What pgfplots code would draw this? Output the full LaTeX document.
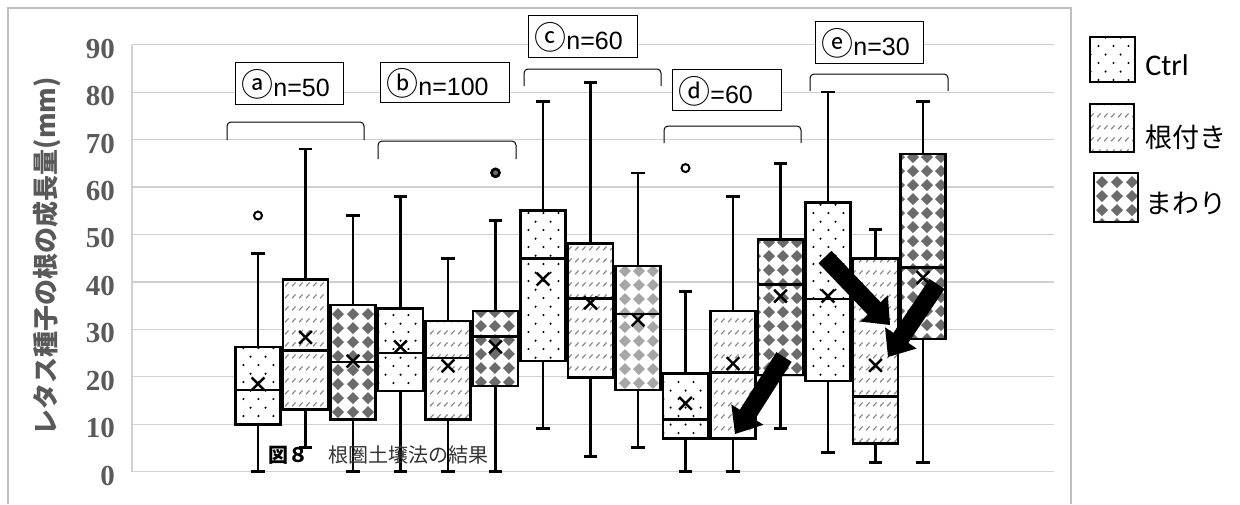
\documentclass[border=0pt]{standalone}
\usepackage{fontspec}
\setmainfont{Liberation Sans}
\newfontfamily\jp{Noto Sans CJK JP}
\newfontfamily\tickfont{Liberation Serif}
\newfontfamily\carl{Carlito}
\usepackage{pgfplots}
\pgfplotsset{compat=1.18}
\usepgfplotslibrary{statistics}
\usetikzlibrary{patterns,calc}

\pgfdeclarepatternformonly{sdots}{\pgfqpoint{0pt}{0pt}}{\pgfqpoint{7.5pt}{8.4pt}}{\pgfqpoint{7.5pt}{8.4pt}}{%
  \pgfpathcircle{\pgfqpoint{1.8pt}{2pt}}{0.6pt}%
  \pgfpathcircle{\pgfqpoint{5.55pt}{6.2pt}}{0.6pt}%
  \pgfusepath{fill}}
\pgfdeclarepatternformonly{shatch}{\pgfqpoint{0pt}{0pt}}{\pgfqpoint{3.3pt}{6pt}}{\pgfqpoint{3.3pt}{6pt}}{%
  \pgfsetlinewidth{0.6pt}%
  \pgfpathmoveto{\pgfqpoint{0.6pt}{1.5pt}}%
  \pgfpathlineto{\pgfqpoint{2.4pt}{3.5pt}}%
  \pgfusepath{stroke}}
\pgfdeclarepatternformonly{sdiam}{\pgfqpoint{0pt}{0pt}}{\pgfqpoint{7.2pt}{7.2pt}}{\pgfqpoint{7.2pt}{7.2pt}}{%
  \pgfpathmoveto{\pgfqpoint{3.6pt}{0.5pt}}%
  \pgfpathlineto{\pgfqpoint{6.7pt}{3.6pt}}%
  \pgfpathlineto{\pgfqpoint{3.6pt}{6.7pt}}%
  \pgfpathlineto{\pgfqpoint{0.5pt}{3.6pt}}%
  \pgfpathclose
  \pgfusepath{fill}}

\definecolor{gridc}{HTML}{D0D0D0}
\definecolor{framec}{HTML}{BFBFBF}
\definecolor{tickc}{HTML}{5A5A5A}
\definecolor{hatchc}{HTML}{858585}
\definecolor{diamc}{HTML}{6B6B6B}
\definecolor{diamlc}{HTML}{A6A6A6}

\pgfplotsset{
  ctrl/.style={draw=black, line width=1.3pt,
    boxplot/every box/.style={preaction={fill=white}, pattern=sdots, pattern color=black}},
  nezu/.style={draw=black, line width=1.3pt,
    boxplot/every box/.style={preaction={fill=white}, pattern=shatch, pattern color=hatchc}},
  mawa/.style={draw=black, line width=1.3pt,
    boxplot/every box/.style={preaction={fill=white}, pattern=sdiam, pattern color=diamc}},
  mawal/.style={draw=black, line width=1.3pt,
    boxplot/every box/.style={preaction={fill=white}, pattern=sdiam, pattern color=diamlc}},
  outl/.style={mark=*, mark size=2pt, mark options={fill=white, draw=black, line width=1pt, solid}},
}

\newcommand{\blockarrow}[2]{%
  \fill[black]
    ($(#1)!4.5pt!90:(#2)$) --
    ($($(#2)!11.5pt!(#1)$)!4.5pt!-90:(#1)$) --
    ($($(#2)!11.5pt!(#1)$)!9.5pt!-90:(#1)$) --
    (#2) --
    ($($(#2)!11.5pt!(#1)$)!9.5pt!90:(#1)$) --
    ($($(#2)!11.5pt!(#1)$)!4.5pt!90:(#1)$) --
    ($(#1)!4.5pt!-90:(#2)$) -- cycle;}
\newcommand{\circl}[1]{{\fontsize{16}{16}\jp #1}}

\begin{document}
\begin{tikzpicture}
\begin{scope}[x=0.5pt,y=-0.5pt]
\useasboundingbox (0,0) rectangle (1240,504);
\fill[white] (0,0) rectangle (1240,504);
\draw[framec, line width=0.6pt] (8,504) -- (8,8) -- (1071,8) -- (1071,504);
\end{scope}

\begin{axis}[
  at={(66pt,-235.85pt)}, anchor=south west,
  scale only axis, width=461pt, height=213.5pt,
  xmin=-1.6526, xmax=17.758, ymin=0, ymax=90,
  axis x line=none,
  axis y line*=left,
  y axis line style={draw=gridc, line width=0.6pt, -},
  ytick={0,10,...,90},
  major tick length=0pt,
  ymajorgrids, grid style={draw=gridc, line width=0.6pt},
  yticklabel style={font=\fontsize{14.5}{14.5}\tickfont\bfseries, text=tickc, anchor=east, xshift=-5pt, yshift=-2pt},
  /pgf/number format/assume math mode=true,
  boxplot/draw direction=y,
  boxplot/box extend=0.94,
  boxplot/whisker extend=0.28,
  clip=false,
]
% group a
\addplot[ctrl, outl, boxplot prepared={draw position=1, lower whisker=0, lower quartile=10.0, median=17.2, upper quartile=26.3, upper whisker=46}] table[row sep=\\, y index=0] {v\\54\\};
\addplot[nezu, boxplot prepared={draw position=2, lower whisker=5.1, lower quartile=13.1, median=25.5, upper quartile=40.5, upper whisker=68}] coordinates {};
\addplot[mawa, boxplot prepared={draw position=3, lower whisker=0, lower quartile=11.0, median=23.1, upper quartile=35.1, upper whisker=54}] coordinates {};
% group b
\addplot[ctrl, boxplot prepared={draw position=4, lower whisker=0, lower quartile=17.0, median=25.0, upper quartile=34.4, upper whisker=58}] coordinates {};
\addplot[nezu, boxplot prepared={draw position=5, lower whisker=0, lower quartile=11.0, median=24.0, upper quartile=31.8, upper whisker=45}] coordinates {};
\addplot[mawa, outl, mark options={fill=diamc}, boxplot prepared={draw position=6, lower whisker=0, lower quartile=18.1, median=28.5, upper quartile=33.9, upper whisker=53}] table[row sep=\\, y index=0] {v\\63\\};
% group c
\addplot[ctrl, boxplot prepared={draw position=7, lower whisker=9.1, lower quartile=23.3, median=45.0, upper quartile=55.0, upper whisker=78}] coordinates {};
\addplot[nezu, boxplot prepared={draw position=8, lower whisker=3.2, lower quartile=19.9, median=36.5, upper quartile=48.1, upper whisker=82}] coordinates {};
\addplot[mawal, boxplot prepared={draw position=9, lower whisker=5.1, lower quartile=17.2, median=33.2, upper quartile=43.4, upper whisker=63}] coordinates {};
% group d
\addplot[ctrl, outl, boxplot prepared={draw position=10, lower whisker=0, lower quartile=7.0, median=11.0, upper quartile=20.7, upper whisker=38}] table[row sep=\\, y index=0] {v\\64\\};
\addplot[nezu, boxplot prepared={draw position=11, lower whisker=0, lower quartile=7.0, median=20.9, upper quartile=33.9, upper whisker=58}] coordinates {};
\addplot[mawa, boxplot prepared={draw position=12, lower whisker=9.1, lower quartile=20.4, median=39.5, upper quartile=49.0, upper whisker=65}] coordinates {};
% group e
\addplot[ctrl, boxplot prepared={draw position=13, lower whisker=4.1, lower quartile=19.1, median=36.4, upper quartile=56.8, upper whisker=80}] coordinates {};
\addplot[nezu, boxplot prepared={draw position=14, lower whisker=2.0, lower quartile=6.0, median=15.9, upper quartile=45.0, upper whisker=51}] coordinates {};
\addplot[mawa, boxplot prepared={draw position=15, lower whisker=2.0, lower quartile=28.0, median=43.1, upper quartile=67.0, upper whisker=78}] coordinates {};
% means
\addplot[only marks, mark=x, mark size=4.5pt, mark options={draw=black, line width=1.2pt}] coordinates {
(1,18.5) (2,28.3) (3,23.3) (4,26.3) (5,22.3) (6,26.3) (7,40.6) (8,35.6) (9,32.0)
(10,14.4) (11,22.8) (12,37.0) (13,37.0) (14,22.4) (15,40.9)};
\end{axis}

\begin{scope}[x=0.5pt,y=-0.5pt]
% brackets
\draw[black, line width=0.5pt, rounded corners=2pt] (227,140) -- (227,122) -- (364,122) -- (364,140);
\draw[black, line width=0.5pt, rounded corners=2pt] (378,159) -- (378,141) -- (516,141) -- (516,159);
\draw[black, line width=0.5pt, rounded corners=2pt] (524,86) -- (524,69) -- (661,69) -- (661,86);
\draw[black, line width=0.5pt, rounded corners=2pt] (664,143) -- (664,126) -- (801,126) -- (801,143);
\draw[black, line width=0.5pt, rounded corners=2pt] (810,91) -- (810,74) -- (948,74) -- (948,91);
% group labels
\tikzset{glab/.style={draw=black, line width=0.5pt, fill=white}}
\filldraw[glab] (235,62) rectangle (343,104);
\filldraw[glab] (380,62) rectangle (509,102);
\filldraw[glab] (528,15) rectangle (637,57);
\filldraw[glab] (672,69) rectangle (781,110);
\filldraw[glab] (815,21) rectangle (923,63);
\tikzset{gtxt/.style={anchor=west, inner sep=0pt, font=\fontsize{12.5}{13}\selectfont}}
\node[gtxt] at (241,84) {\circl{ⓐ}n=50};
\node[gtxt] at (386,83) {\circl{ⓑ}n=100};
\node[gtxt] at (534,37) {\circl{ⓒ}n=60};
\node[gtxt] at (678,91) {\circl{ⓓ}=60};
\node[gtxt] at (821,43) {\circl{ⓔ}n=30};
% caption
\node[anchor=west, inner sep=0pt, font=\fontsize{10}{10}\jp] at (268,455) {{\bfseries 図８}\textcolor{black!80}{　根圏土壌法の結果}};
% y label
\node[rotate=90, inner sep=0pt, text=black!65, font=\fontsize{13}{13}\jp\bfseries] at (47,256) {レタス種子の根の成長量(mm)};
% arrows
\coordinate (A1) at (784,357); \coordinate (B1) at (735,434);
\coordinate (A2) at (825,257); \coordinate (B2) at (890,325);
\coordinate (A3) at (937,284); \coordinate (B3) at (888,357);
\blockarrow{A1}{B1}
\blockarrow{A2}{B2}
\blockarrow{A3}{B3}
% legend
\filldraw[line width=1.3pt, fill=white, postaction={pattern=sdots, pattern color=black}] (1090,37) rectangle (1135,82);
\filldraw[line width=1.3pt, fill=white, postaction={pattern=shatch, pattern color=hatchc}] (1090,104) rectangle (1134,152);
\filldraw[line width=1.3pt, fill=white, postaction={pattern=sdiam, pattern color=diamc}] (1094,173) rectangle (1138,222);
\draw[line width=1.3pt] (1090,37) rectangle (1135,82);
\draw[line width=1.3pt] (1090,104) rectangle (1134,152);
\draw[line width=1.3pt] (1094,173) rectangle (1138,222);
\node[anchor=west, inner sep=0pt, font=\fontsize{15}{15}\carl] at (1145,65) {Ctrl};
\node[anchor=west, inner sep=0pt, font=\fontsize{13.5}{14}\jp] at (1145,137) {根付き};
\node[anchor=west, inner sep=0pt, font=\fontsize{13.5}{14}\jp] at (1145,203) {まわり};
\end{scope}
\end{tikzpicture}
\end{document}
